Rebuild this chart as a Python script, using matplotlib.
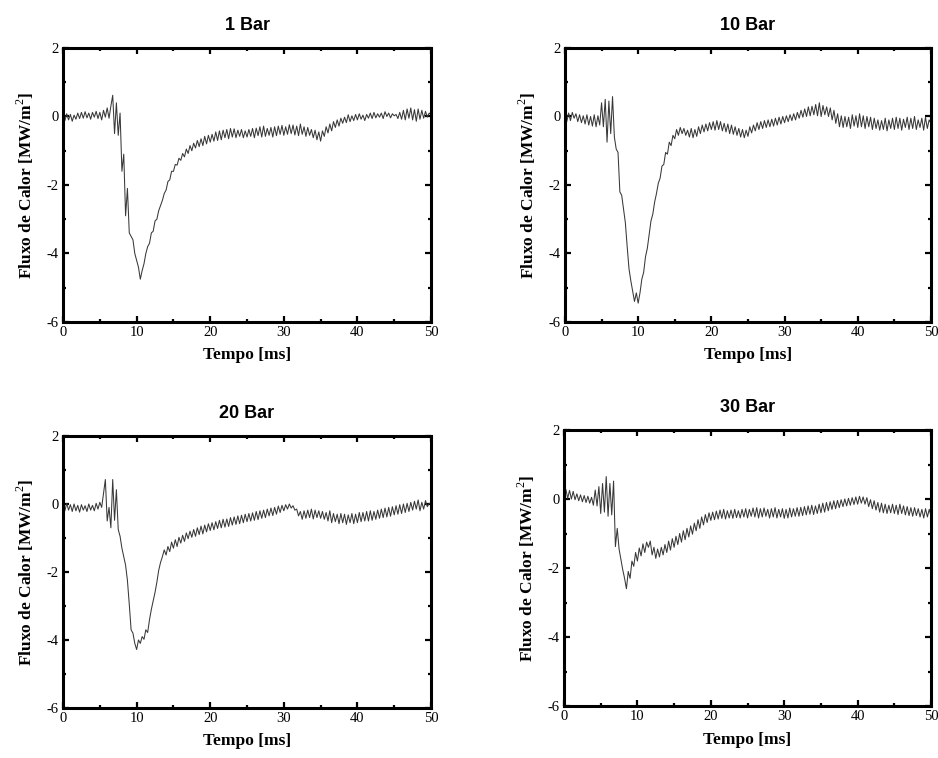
import numpy as np
import matplotlib.pyplot as plt
from matplotlib.ticker import MultipleLocator

plt.rcParams["axes.unicode_minus"] = False
plt.rcParams["mathtext.fontset"] = "custom"
plt.rcParams["mathtext.rm"] = "Liberation Serif"

flux_1bar = [
    0.05, -0.12, 0.08, -0.10, 0.06, -0.14, 0.04, -0.08, 0.10, -0.06,
    0.12, -0.05, 0.14, -0.04, 0.10, -0.08, 0.12, -0.02, 0.15, -0.06,
    0.12, -0.10, 0.18, -0.02, 0.25, -0.05, 0.30, 0.62, -0.50, 0.40,
    -0.55, 0.10, -1.60, -1.10, -2.90, -2.10, -3.40, -3.50, -3.60, -4.00,
    -4.20, -4.40, -4.75, -4.50, -4.30, -4.00, -3.80, -3.70, -3.40, -3.35,
    -3.05, -3.00, -2.75, -2.60, -2.45, -2.25, -2.15, -1.90, -1.85, -1.60,
    -1.60, -1.40, -1.42, -1.22, -1.28, -1.08, -1.18, -0.95, -1.08, -0.85,
    -1.00, -0.78, -0.92, -0.70, -0.88, -0.65, -0.85, -0.58, -0.80, -0.55,
    -0.75, -0.52, -0.72, -0.45, -0.70, -0.42, -0.68, -0.40, -0.62, -0.38,
    -0.65, -0.35, -0.60, -0.36, -0.62, -0.40, -0.58, -0.38, -0.62, -0.42,
    -0.60, -0.38, -0.58, -0.35, -0.62, -0.34, -0.56, -0.30, -0.60, -0.28,
    -0.58, -0.35, -0.55, -0.32, -0.60, -0.30, -0.56, -0.28, -0.52, -0.26,
    -0.55, -0.30, -0.52, -0.24, -0.50, -0.25, -0.54, -0.28, -0.56, -0.22,
    -0.52, -0.30, -0.58, -0.32, -0.55, -0.38, -0.62, -0.40, -0.68, -0.45,
    -0.72, -0.42, -0.58, -0.30, -0.48, -0.22, -0.42, -0.15, -0.32, -0.10,
    -0.28, -0.05, -0.20, -0.02, -0.18, 0.05, -0.15, 0.02, -0.12, 0.06,
    -0.10, 0.08, -0.08, 0.04, -0.12, 0.06, -0.05, 0.10, -0.06, 0.12,
    -0.04, 0.08, -0.02, 0.10, -0.06, 0.14, 0.00, 0.10, -0.04, 0.08,
    0.02, 0.06, -0.06, 0.12, -0.08, 0.18, -0.10, 0.22, -0.05, 0.25,
    -0.10, 0.20, -0.14, 0.22, -0.08, 0.18, -0.05, 0.15, -0.02, 0.10,
    0.05,
]

flux_10bar = [
    0.05, -0.15, 0.10, -0.12, 0.12, -0.05, 0.08, -0.15, 0.05, -0.18,
    0.02, -0.22, 0.05, -0.25, 0.00, -0.28, 0.05, -0.30, 0.02, -0.25,
    0.40, -0.30, 0.50, -0.75, 0.45, -0.50, 0.58, -0.60, -0.95, -1.05,
    -2.20, -2.30, -2.70, -3.10, -3.80, -4.45, -4.80, -5.10, -5.40, -5.15,
    -5.45, -5.15, -4.75, -4.55, -4.10, -3.85, -3.45, -3.05, -2.85, -2.50,
    -2.25, -1.95, -1.80, -1.45, -1.40, -1.05, -1.10, -0.75, -0.85, -0.55,
    -0.65, -0.38, -0.55, -0.32, -0.50, -0.35, -0.55, -0.40, -0.60, -0.35,
    -0.62, -0.38, -0.58, -0.30, -0.50, -0.25, -0.45, -0.22, -0.42, -0.18,
    -0.38, -0.15, -0.40, -0.12, -0.38, -0.15, -0.42, -0.20, -0.45, -0.22,
    -0.50, -0.25, -0.52, -0.30, -0.55, -0.35, -0.60, -0.38, -0.62, -0.40,
    -0.58, -0.30, -0.48, -0.25, -0.42, -0.18, -0.38, -0.15, -0.35, -0.12,
    -0.32, -0.10, -0.30, -0.08, -0.28, -0.05, -0.25, -0.02, -0.22, 0.00,
    -0.18, 0.02, -0.15, 0.05, -0.12, 0.08, -0.10, 0.12, -0.05, 0.18,
    -0.02, 0.22, 0.00, 0.28, 0.02, 0.30, 0.05, 0.35, 0.02, 0.40,
    0.00, 0.32, 0.05, 0.28, 0.00, 0.25, -0.10, 0.18, -0.20, 0.08,
    -0.30, 0.02, -0.32, 0.00, -0.30, -0.02, -0.35, 0.05, -0.28, 0.02,
    -0.32, 0.08, -0.30, 0.02, -0.35, 0.00, -0.30, -0.02, -0.38, -0.05,
    -0.35, -0.10, -0.40, -0.12, -0.38, -0.05, -0.42, -0.10, -0.35, -0.05,
    -0.38, -0.02, -0.35, -0.05, -0.40, -0.08, -0.32, -0.02, -0.38, -0.05,
    -0.35, 0.00, -0.38, -0.10, -0.32, -0.05, -0.40, -0.02, -0.35, -0.10,
    -0.20,
]

flux_20bar = [
    -0.05, -0.20, 0.02, -0.18, -0.02, -0.22, 0.00, -0.20, -0.04, -0.24,
    -0.02, -0.18, -0.05, -0.22, 0.00, -0.18, -0.04, -0.20, 0.02, -0.15,
    0.05, -0.10, 0.30, 0.72, -0.50, -0.10, -0.70, 0.72, -0.48, 0.42,
    -0.75, -0.95, -1.30, -1.55, -1.80, -2.25, -2.95, -3.70, -3.80, -4.10,
    -4.28, -4.00, -4.10, -3.90, -3.98, -3.70, -3.78, -3.40, -3.10, -2.85,
    -2.60, -2.30, -1.95, -1.72, -1.55, -1.35, -1.50, -1.25, -1.40, -1.12,
    -1.30, -1.05, -1.25, -0.98, -1.15, -0.92, -1.10, -0.85, -1.02, -0.80,
    -0.98, -0.75, -0.95, -0.70, -0.90, -0.65, -0.88, -0.62, -0.82, -0.58,
    -0.78, -0.55, -0.76, -0.52, -0.72, -0.48, -0.70, -0.45, -0.68, -0.44,
    -0.66, -0.40, -0.62, -0.38, -0.60, -0.35, -0.58, -0.33, -0.55, -0.30,
    -0.52, -0.28, -0.50, -0.26, -0.48, -0.22, -0.46, -0.20, -0.42, -0.18,
    -0.40, -0.15, -0.35, -0.12, -0.34, -0.10, -0.30, -0.06, -0.25, -0.04,
    -0.20, -0.02, -0.15, 0.00, -0.12, -0.05, -0.18, -0.15, -0.35, -0.22,
    -0.45, -0.20, -0.42, -0.18, -0.40, -0.15, -0.44, -0.18, -0.40, -0.20,
    -0.42, -0.22, -0.45, -0.25, -0.50, -0.20, -0.55, -0.28, -0.52, -0.30,
    -0.58, -0.28, -0.55, -0.30, -0.60, -0.32, -0.55, -0.28, -0.58, -0.30,
    -0.55, -0.25, -0.52, -0.25, -0.50, -0.22, -0.50, -0.20, -0.48, -0.22,
    -0.45, -0.18, -0.42, -0.15, -0.40, -0.12, -0.38, -0.10, -0.36, -0.08,
    -0.32, -0.05, -0.30, -0.02, -0.28, 0.00, -0.25, 0.02, -0.22, 0.05,
    -0.18, 0.08, -0.15, 0.12, -0.20, 0.05, -0.15, 0.10, -0.08, 0.02,
    0.00,
]

flux_30bar = [
    0.10, 0.28, 0.02, 0.25, 0.00, 0.22, -0.02, 0.15, -0.05, 0.12,
    -0.08, 0.10, -0.10, 0.08, -0.12, 0.05, -0.18, 0.26, -0.20, 0.36,
    -0.42, 0.45, -0.38, 0.65, -0.50, 0.45, -0.46, 0.52, -1.38, -0.85,
    -1.45, -1.75, -2.05, -2.30, -2.60, -2.10, -2.30, -1.80, -1.95, -1.55,
    -1.80, -1.42, -1.65, -1.30, -1.55, -1.25, -1.40, -1.22, -1.62, -1.40,
    -1.72, -1.45, -1.68, -1.40, -1.62, -1.32, -1.55, -1.22, -1.48, -1.15,
    -1.40, -1.08, -1.32, -1.00, -1.25, -0.92, -1.18, -0.85, -1.10, -0.78,
    -1.02, -0.70, -0.92, -0.60, -0.85, -0.52, -0.75, -0.45, -0.68, -0.40,
    -0.62, -0.38, -0.60, -0.35, -0.58, -0.32, -0.56, -0.30, -0.58, -0.34,
    -0.55, -0.32, -0.56, -0.30, -0.54, -0.34, -0.55, -0.30, -0.52, -0.28,
    -0.55, -0.30, -0.50, -0.26, -0.52, -0.25, -0.55, -0.28, -0.52, -0.26,
    -0.50, -0.30, -0.55, -0.28, -0.52, -0.25, -0.55, -0.30, -0.52, -0.28,
    -0.56, -0.30, -0.55, -0.26, -0.52, -0.28, -0.50, -0.25, -0.50, -0.24,
    -0.48, -0.22, -0.46, -0.20, -0.44, -0.18, -0.45, -0.20, -0.42, -0.15,
    -0.40, -0.12, -0.38, -0.10, -0.34, -0.08, -0.30, -0.05, -0.28, -0.04,
    -0.25, -0.02, -0.22, 0.00, -0.20, 0.02, -0.18, 0.04, -0.16, 0.06,
    -0.15, 0.08, -0.12, 0.06, -0.15, 0.04, -0.22, -0.02, -0.28, -0.05,
    -0.32, -0.10, -0.38, -0.12, -0.40, -0.15, -0.42, -0.18, -0.40, -0.15,
    -0.42, -0.18, -0.45, -0.15, -0.42, -0.20, -0.46, -0.22, -0.48, -0.25,
    -0.50, -0.25, -0.48, -0.28, -0.52, -0.30, -0.55, -0.28, -0.52, -0.30,
    -0.50,
]

titles = ["1 Bar", "10 Bar", "20 Bar", "30 Bar"]
series = [flux_1bar, flux_10bar, flux_20bar, flux_30bar]

# axes boxes in figure fractions [left, bottom, width, height]
boxes = [
    [0.0672, 0.5752, 0.3923, 0.3615],
    [0.6023, 0.5752, 0.3902, 0.3615],
    [0.0672, 0.0660, 0.3923, 0.3588],
    [0.6013, 0.0686, 0.3913, 0.3641],
]

serif = ["Liberation Serif", "DejaVu Serif"]

fig = plt.figure(figsize=(9.38, 7.58), dpi=100)

for box, title, vals in zip(boxes, titles, series):
    ax = fig.add_axes(box)
    vals = np.asarray(vals)
    t = np.linspace(0, 50, len(vals))
    ax.plot(t, vals, color="#383838", lw=0.75)

    ax.set_xlim(0, 50)
    ax.set_ylim(-6, 2)
    ax.xaxis.set_major_locator(MultipleLocator(10))
    ax.xaxis.set_minor_locator(MultipleLocator(5))
    ax.yaxis.set_major_locator(MultipleLocator(2))
    ax.yaxis.set_minor_locator(MultipleLocator(1))
    ax.tick_params(which="both", direction="in", top=True, right=True,
                   width=1.6, labelsize=10.5, pad=3)
    ax.tick_params(which="major", length=4)
    ax.tick_params(which="minor", length=2.5)
    for lab in ax.get_xticklabels() + ax.get_yticklabels():
        lab.set_family(serif)
    for sp in ax.spines.values():
        sp.set_linewidth(2.2)

    ax.set_title(title, fontsize=13, fontweight="bold",
                 family=["Liberation Sans", "DejaVu Sans"], pad=13)
    ax.set_xlabel("Tempo [ms]", fontsize=12.5, fontweight="bold",
                  family=serif, labelpad=6)
    ax.set_ylabel(r"Fluxo de Calor [MW/m$^{2}$]", fontsize=12.5,
                  fontweight="bold", family=serif, labelpad=8)

fig.savefig("out.png", dpi=100)
